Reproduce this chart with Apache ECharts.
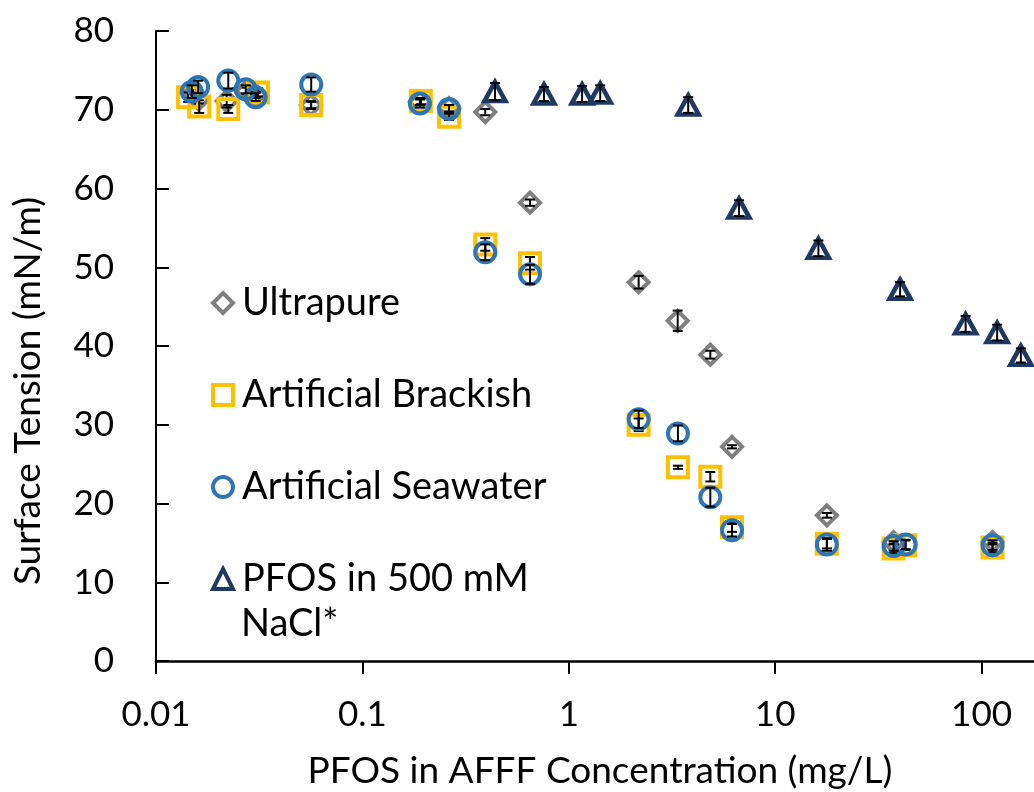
<!DOCTYPE html>
<html>
<head>
<meta charset="utf-8">
<script src="https://cdn.jsdelivr.net/npm/echarts@6/dist/echarts.min.js"></script>
<style>
  html, body { margin: 0; padding: 0; background: #ffffff; }
  #chart { width: 1034px; height: 792px; }
</style>
</head>
<body>
<div id="chart"></div>
<script>
// Surface tension of PFOS (from AFFF) in different water matrices
const seriesNames = ['Ultrapure', 'Artificial Brackish', 'Artificial Seawater', 'PFOS in 500 mM NaCl*'];

const ultrapureX   = [0.0151, 0.0161, 0.0220, 0.0275, 0.0304, 0.0563, 0.190, 0.263, 0.394, 0.649, 2.18, 3.37, 4.85, 6.18, 17.8, 37.5, 113];
const ultrapureY   = [72.2, 71.3, 71.1, 72.4, 71.9, 70.6, 71.0, 70.2, 69.7, 58.2, 48.1, 43.2, 38.9, 27.2, 18.5, 15.1, 15.1];
const ultrapureErr = [0.5, 0.5, 0.8, 0.4, 0.4, 0.5, 0.4, 0.4, 0.4, 0.4, 0.8, 1.3, 0.5, 0.2, 0.3, 0.3, 0.3];

const brackishX   = [0.0143, 0.0162, 0.0224, 0.0312, 0.0565, 0.192, 0.263, 0.394, 0.649, 2.18, 3.38, 4.85, 6.18, 17.8, 37.5, 42.7, 113];
const brackishY   = [71.6, 70.4, 70.1, 72.2, 70.6, 71.1, 69.1, 52.9, 50.5, 30.0, 24.6, 23.4, 17.0, 14.9, 14.3, 14.7, 14.4];
const brackishErr = [0.6, 0.8, 0.5, 0.5, 0.4, 0.4, 0.4, 0.8, 0.8, 0.8, 0.2, 0.6, 0.6, 0.6, 0.6, 0.6, 0.6];

const seawaterX   = [0.0149, 0.0160, 0.0224, 0.0272, 0.0304, 0.0565, 0.190, 0.263, 0.394, 0.649, 2.18, 3.38, 4.85, 6.18, 17.8, 37.5, 42.9, 113];
const seawaterY   = [72.3, 72.9, 73.7, 72.6, 71.6, 73.2, 70.8, 70.1, 51.9, 49.1, 30.7, 28.9, 20.8, 16.6, 14.8, 14.6, 14.8, 14.7];
const seawaterErr = [0.8, 0.8, 1.0, 0.5, 0.5, 0.9, 0.5, 0.5, 1.0, 1.2, 1.1, 1.0, 1.2, 0.8, 0.8, 0.6, 0.6, 0.6];

const naclX   = [0.439, 0.758, 1.16, 1.42, 3.79, 6.68, 16.2, 40.3, 83.7, 119, 155];
const naclY   = [72.3, 72.0, 72.0, 72.1, 70.6, 57.5, 52.4, 47.2, 42.8, 41.7, 38.8];
const naclErr = [1.1, 0.9, 1.0, 1.0, 1.0, 1.0, 1.0, 0.9, 1.0, 1.0, 0.9];

const yTicks = [0, 10, 20, 30, 40, 50, 60, 70, 80];
const xTickLabels = ['0.01', '0.1', '1', '10', '100'];

const FONT = 'Lato';
const colors = ['#7f7f7f', '#ffc000', '#2e75b6', '#1f3864'];
const symbols = ['diamond', 'rect', 'circle', 'triangle'];

const groups = [
  [ultrapureX, ultrapureY, ultrapureErr],
  [brackishX, brackishY, brackishErr],
  [seawaterX, seawaterY, seawaterErr],
  [naclX, naclY, naclErr]
];

const pairs = (xs, ys) => xs.map((x, i) => [x, ys[i]]);

const series = [];
groups.forEach((g, k) => {
  series.push({
    name: seriesNames[k],
    type: 'scatter',
    data: pairs(g[0], g[1]),
    symbol: symbols[k],
    symbolSize: k === 3 ? [21, 19] : 20,
    itemStyle: {
      color: 'rgba(255,255,255,0)',
      borderColor: colors[k],
      borderWidth: k === 3 ? 4.5 : 4,
      opacity: 1
    },
    emphasis: { disabled: true },
    z: 2 + k * 2
  });
  series.push({
    type: 'custom',
    name: seriesNames[k] + ' error',
    data: g[0].map((x, i) => [x, g[1][i], g[2][i]]),
    z: 3 + k * 2,
    silent: true,
    renderItem: function (params, api) {
      const x = api.value(0), y = api.value(1), e = api.value(2);
      const top = api.coord([x, y + e]);
      const bot = api.coord([x, y - e]);
      const hw = 5;
      const style = { stroke: '#000000', lineWidth: 2 };
      return {
        type: 'group',
        children: [
          { type: 'line', shape: { x1: top[0], y1: top[1], x2: bot[0], y2: bot[1] }, style },
          { type: 'line', shape: { x1: top[0] - hw, y1: top[1], x2: top[0] + hw, y2: top[1] }, style },
          { type: 'line', shape: { x1: bot[0] - hw, y1: bot[1], x2: bot[0] + hw, y2: bot[1] }, style }
        ]
      };
    }
  });
});

// the axis runs a little past 100 so that 0.01..100 spans the drawn width
const xMax = 179.5;

const chart = echarts.init(document.getElementById('chart'), null, { renderer: 'canvas' });
chart.setOption({
  animation: false,
  backgroundColor: '#ffffff',
  grid: { left: 156, right: 0, top: 31, bottom: 131, containLabel: false },
  xAxis: {
    type: 'log',
    logBase: 10,
    min: 0.01,
    max: xMax,
    axisLine: { show: true, lineStyle: { color: '#000', width: 2.5 } },
    axisTick: { show: true, inside: false, length: 13, lineStyle: { color: '#000', width: 2 } },
    axisLabel: {
      margin: 36,
      color: '#000',
      fontFamily: FONT,
      fontSize: 35,
      showMaxLabel: false,
      formatter: function (v) {
        const k = Math.round(Math.log10(v)) + 2;
        return Math.abs(Math.log10(v) - Math.round(Math.log10(v))) < 1e-6 ? (xTickLabels[k] || '') : '';
      }
    },
    splitLine: { show: false },
    minorTick: { show: false }
  },
  yAxis: {
    type: 'value',
    min: yTicks[0],
    max: yTicks[yTicks.length - 1],
    interval: 10,
    axisLine: { show: true, lineStyle: { color: '#000', width: 2 } },
    axisTick: { show: true, inside: true, length: 13, lineStyle: { color: '#000', width: 2 } },
    axisLabel: { margin: 42, color: '#000', fontFamily: FONT, fontSize: 35 },
    splitLine: { show: false }
  },
  legend: {
    orient: 'vertical',
    left: 206,
    top: 278,
    itemWidth: 20,
    itemHeight: 20,
    itemGap: 52,
    selectedMode: false,
    data: seriesNames,
    itemStyle: { borderWidth: 4, opacity: 1 },
    formatter: function (name) {
      return name === seriesNames[3] ? 'PFOS in 500 mM' : name;
    },
    textStyle: { color: '#000', fontFamily: FONT, fontSize: 38, lineHeight: 40, padding: [0, 0, 0, 4] }
  },
  graphic: [
    {
      type: 'text', left: 241, top: 605,
      style: { text: 'NaCl*', fill: '#000', font: '38px ' + FONT }
    },
    {
      type: 'text', x: 600, y: 771,
      style: { text: 'PFOS in AFFF Concentration (mg/L)', fill: '#000', font: '37px ' + FONT, textAlign: 'center', textVerticalAlign: 'middle' }
    },
    {
      type: 'text', x: 28, y: 391, rotation: Math.PI / 2,
      style: { text: 'Surface Tension (mN/m)', fill: '#000', font: '37px ' + FONT, textAlign: 'center', textVerticalAlign: 'middle' }
    }
  ],
  series: series
});
</script>
</body>
</html>
